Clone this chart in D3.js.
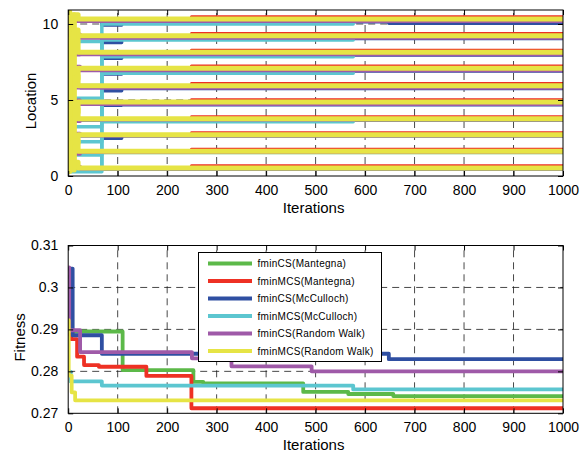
<!DOCTYPE html>
<html>
<head>
<meta charset="utf-8">
<script src="https://cdn.jsdelivr.net/npm/d3@7"></script>
<style>
  body { margin: 0; background: #fff; }
  svg { display: block; font-family: "Liberation Sans", Arial, sans-serif; }
</style>
</head>
<body>
<svg id="chart" width="585" height="454"></svg>
<script>
// ---------- data ----------
const seriesNames = ["fminCS(Mantegna)", "fminMCS(Mantegna)", "fminCS(McCulloch)",
                     "fminMCS(McCulloch)", "fminCS(Random Walk)", "fminMCS(Random Walk)"];
const seriesColors = ["#5cb949", "#ee3124", "#2f4fa2", "#5cc6d0", "#9f5aa8", "#e6e445"];

const xTicks = [0, 100, 200, 300, 400, 500, 600, 700, 800, 900, 1000];
const locTicks = [0, 5, 10];
const fitTicks = [0.27, 0.28, 0.29, 0.30, 0.31];
const fitTickLabels = ["0.27", "0.28", "0.29", "0.3", "0.31"];

// best fitness per iteration: [iteration, fitness] at each improvement
const fitCS_Mantegna   = [[0, 0.3025], [8, 0.2895], [110, 0.2803], [253, 0.2775], [273, 0.2771],
                          [475, 0.2751], [566, 0.2746], [657, 0.2741]];
const fitMCS_Mantegna  = [[0, 0.2888], [6, 0.2877], [18, 0.2835], [32, 0.2815], [62, 0.2811],
                          [158, 0.2789], [249, 0.2712]];
const fitCS_McCulloch  = [[0, 0.3045], [9, 0.2886], [68, 0.2842], [648, 0.2829]];
const fitMCS_McCulloch = [[0, 0.2799], [5, 0.2776], [68, 0.2766], [576, 0.2757]];
const fitCS_RandWalk   = [[0, 0.3048], [2, 0.2898], [24, 0.2846], [250, 0.2831], [330, 0.2812],
                          [492, 0.2800]];
const fitMCS_RandWalk  = [[0, 0.2922], [1, 0.2790], [7, 0.2750], [14, 0.2731]];

// best location (10 dimensions) per iteration: change iterations and the rows in force from them
const locItCS_Mantegna = [0, 3];
const locCS_Mantegna = [
  [3.2, 7.8, 0.9, 9.6, 5.5, 2.0, 10.4, 4.1, 6.3, 8.7],
  [0.46, 1.55, 2.64, 3.69, 4.80, 5.87, 7.02, 8.07, 9.16, 10.26]
];
const locItMCS_Mantegna = [0, 3, 249];
const locMCS_Mantegna = [
  [6.8, 2.9, 9.9, 0.6, 8.4, 4.4, 1.7, 10.1, 3.5, 7.3],
  [0.50, 1.59, 2.68, 3.73, 4.84, 5.91, 7.06, 8.11, 9.20, 10.30],
  [0.67, 1.76, 2.85, 3.90, 5.01, 6.08, 7.23, 8.28, 9.37, 10.47]
];
const locItCS_McCulloch = [0, 3, 68, 108, 648];
const locCS_McCulloch = [
  [9.1, 4.8, 1.5, 7.0, 0.4, 10.2, 3.8, 6.1, 2.6, 8.9],
  [0.50, 1.59, 2.68, 3.73, 4.84, 5.91, 7.06, 8.11, 9.20, 10.30],
  [0.50, 1.59, 2.48, 3.73, 4.65, 5.60, 6.71, 7.74, 8.79, 9.93],
  [0.48, 1.57, 2.66, 3.71, 4.69, 5.76, 6.91, 7.96, 9.05, 10.15],
  [0.48, 1.57, 2.66, 3.71, 4.69, 5.76, 6.91, 7.96, 9.05, 10.05]
];
const locItMCS_McCulloch = [0, 68, 576];
const locMCS_McCulloch = [
  [5.11, 0.28, 1.38, 8.84, 2.26, 3.24, 7.05, 4.82, 5.96, 8.12],
  [0.50, 1.59, 2.68, 3.57, 4.84, 5.91, 6.76, 7.85, 8.95, 10.00],
  [0.50, 1.59, 2.68, 3.73, 4.84, 5.91, 7.06, 8.11, 9.20, 10.30]
];
const locItCS_RandWalk = [0, 3, 24];
const locCS_RandWalk = [
  [4.6, 10.6, 6.9, 2.2, 9.3, 0.7, 5.8, 3.1, 8.0, 1.1],
  [0.62, 1.45, 2.80, 3.60, 4.98, 5.80, 7.20, 7.98, 9.33, 10.18],
  [0.47, 1.56, 2.65, 3.70, 4.72, 5.79, 6.94, 7.99, 9.08, 10.18]
];
const locItMCS_RandWalk = [0, 3, 12, 20];
const locMCS_RandWalk = [
  [10.5, 9.0, 0.3, 6.5, 1.2, 8.0, 2.5, 4.0, 10.8, 5.2],
  [2.0, 0.4, 3.6, 2.6, 6.2, 4.6, 8.5, 6.8, 10.6, 9.0],
  [0.9, 2.3, 2.2, 4.4, 4.2, 6.6, 6.4, 9.0, 9.6, 10.6],
  [0.53, 1.62, 2.71, 3.76, 4.87, 5.94, 7.09, 8.14, 9.23, 10.33]
];

const fitHistories = [fitCS_Mantegna, fitMCS_Mantegna, fitCS_McCulloch,
                      fitMCS_McCulloch, fitCS_RandWalk, fitMCS_RandWalk];
const locIters = [locItCS_Mantegna, locItMCS_Mantegna, locItCS_McCulloch,
                  locItMCS_McCulloch, locItCS_RandWalk, locItMCS_RandWalk];
const locRows = [locCS_Mantegna, locMCS_Mantegna, locCS_McCulloch,
                 locMCS_McCulloch, locCS_RandWalk, locMCS_RandWalk];
const maxIter = 1000;

// ---------- layout ----------
const svg = d3.select("#chart");
const left = 68.2, right = 563;
const panelLoc = { top: 10, bottom: 176 };
const panelFit = { top: 245.5, bottom: 413.3 };

const x = d3.scaleLinear().domain([0, maxIter]).range([left, right]);
const yLoc = d3.scaleLinear().domain([0, 10.92]).range([panelLoc.bottom, panelLoc.top]);
const yFit = d3.scaleLinear().domain([0.27, 0.31]).range([panelFit.bottom, panelFit.top]);

const FONT_TICK = 14, FONT_TITLE = 15;

function drawPanel(id, y, yTicks, yLabels, panel, yTitle, titleX) {
  const g = svg.append("g");
  const clipId = "clip-" + id;
  svg.append("clipPath").attr("id", clipId)
    .append("rect").attr("x", left).attr("y", panel.top)
    .attr("width", right - left).attr("height", panel.bottom - panel.top);

  // dashed grid
  const grid = g.append("g").attr("stroke", "#1a1a1a").attr("stroke-width", 0.8)
    .attr("stroke-dasharray", "7,5").attr("fill", "none");
  xTicks.slice(1, -1).forEach(t => {
    grid.append("line").attr("x1", x(t)).attr("x2", x(t))
      .attr("y1", panel.bottom).attr("y2", panel.top);
  });
  yTicks.forEach(t => {
    if (y(t) > panel.top + 1 && y(t) < panel.bottom - 1)
      grid.append("line").attr("x1", left).attr("x2", right)
        .attr("y1", y(t)).attr("y2", y(t));
  });

  const plot = g.append("g").attr("clip-path", `url(#${clipId})`);

  // frame, inner ticks, labels
  const frame = svg.append("g");
  frame.append("rect").attr("x", left).attr("y", panel.top)
    .attr("width", right - left).attr("height", panel.bottom - panel.top)
    .attr("fill", "none").attr("stroke", "#000").attr("stroke-width", 1);

  const axB = d3.axisBottom(x).tickValues(xTicks).tickSize(-5).tickPadding(9)
    .tickFormat(d3.format("d"));
  const gx = frame.append("g").attr("transform", `translate(0,${panel.bottom})`).call(axB);
  const axT = d3.axisTop(x).tickValues(xTicks).tickSize(-5).tickFormat("");
  const gxt = frame.append("g").attr("transform", `translate(0,${panel.top})`).call(axT);

  const axL = d3.axisLeft(y).tickValues(yTicks).tickSize(-5).tickPadding(10)
    .tickFormat((d, i) => yLabels[i]);
  const gy = frame.append("g").attr("transform", `translate(${left},0)`).call(axL);
  const axR = d3.axisRight(y).tickValues(yTicks).tickSize(-5).tickFormat("");
  const gyr = frame.append("g").attr("transform", `translate(${right},0)`).call(axR);

  [gx, gxt, gy, gyr].forEach(a => {
    a.select(".domain").remove();
    a.selectAll(".tick line").attr("stroke", "#000");
    a.selectAll("text").attr("font-size", FONT_TICK).attr("fill", "#000")
      .attr("font-family", '"Liberation Sans", Arial, sans-serif');
  });

  frame.append("text").attr("x", (left + right) / 2 - 2).attr("y", panel.bottom + 37)
    .attr("text-anchor", "middle").attr("font-size", FONT_TITLE).text("Iterations");
  frame.append("text")
    .attr("transform", `translate(${titleX},${(panel.top + panel.bottom) / 2 + 8}) rotate(-90)`)
    .attr("text-anchor", "middle").attr("font-size", FONT_TITLE).text(yTitle);

  return plot;
}

// ---------- top panel: locations ----------
const plotLoc = drawPanel("loc", yLoc, locTicks, locTicks.map(String), panelLoc, "Location", 36);
const stepLoc = d3.line().x(d => x(d[0])).y(d => yLoc(d[1])).curve(d3.curveStepAfter);
const locWidths = [3.5, 3, 3.5, 3.5, 3.5, 5];

locRows.forEach((rows, s) => {
  const its = locIters[s];
  for (let d = 0; d < 10; d++) {
    const pts = its.map((it, k) => [it, rows[k][d]]);
    pts.push([maxIter, rows[rows.length - 1][d]]);
    plotLoc.append("path").datum(pts)
      .attr("d", stepLoc).attr("fill", "none")
      .attr("stroke", seriesColors[s]).attr("stroke-width", locWidths[s])
      .attr("stroke-linejoin", "round");
  }
});

// ---------- bottom panel: fitness ----------
const plotFit = drawPanel("fit", yFit, fitTicks, fitTickLabels, panelFit, "Fitness", 25);
const stepFit = d3.line().x(d => x(d[0])).y(d => yFit(d[1])).curve(d3.curveStepAfter);

fitHistories.forEach((h, s) => {
  const pts = h.concat([[maxIter, h[h.length - 1][1]]]);
  plotFit.append("path").datum(pts)
    .attr("d", stepFit).attr("fill", "none")
    .attr("stroke", seriesColors[s]).attr("stroke-width", 3.8)
    .attr("stroke-linejoin", "round");
});

// legend
const leg = svg.append("g");
leg.append("rect").attr("x", 198.5).attr("y", 252.5).attr("width", 183).attr("height", 109)
  .attr("fill", "#fff").attr("stroke", "#000").attr("stroke-width", 1);
seriesNames.forEach((name, i) => {
  const yy = 263.5 + i * 17.5;
  leg.append("line").attr("x1", 208).attr("x2", 252).attr("y1", yy).attr("y2", yy)
    .attr("stroke", seriesColors[i]).attr("stroke-width", 4);
  leg.append("text").attr("x", 257.5).attr("y", yy + 3.6)
    .attr("font-size", 10).attr("letter-spacing", 0.3).attr("fill", "#000").text(name);
});
</script>
</body>
</html>
